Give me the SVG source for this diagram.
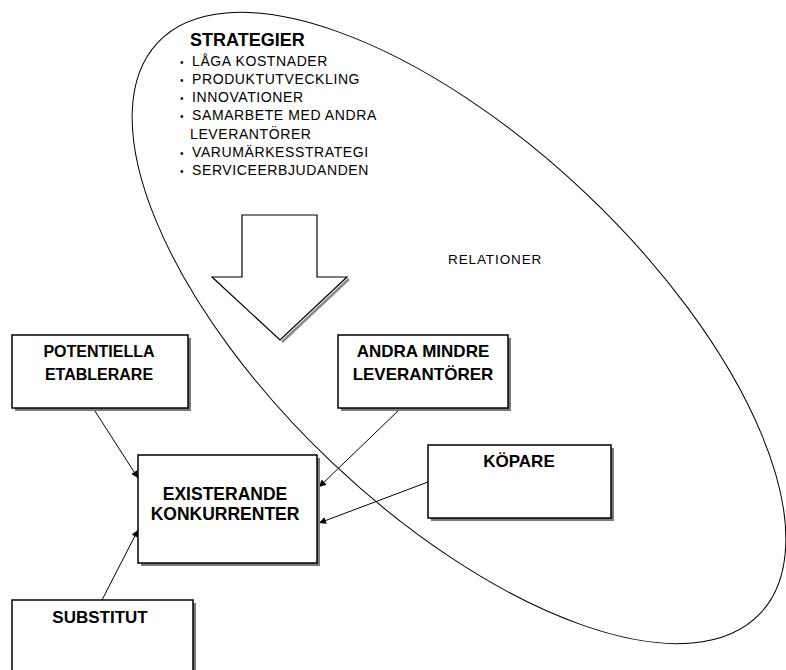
<svg xmlns="http://www.w3.org/2000/svg" width="786" height="670" viewBox="0 0 786 670">
<defs>
<style>
.box{fill:#fff;stroke:#000;stroke-width:1.5}
.shadow{fill:#7a7a7a}
.lbl{font-family:"Liberation Sans",Arial,sans-serif;font-weight:bold;font-size:17px;fill:#000;text-anchor:middle}
.item{font-family:"Liberation Sans",Arial,sans-serif;font-size:14px;letter-spacing:0.6px;fill:#000}
.conn{stroke:#000;stroke-width:1;fill:none;marker-end:url(#ah)}
</style>
<marker id="ah" viewBox="0 0 10 10" refX="10" refY="5" markerWidth="9" markerHeight="7" markerUnits="userSpaceOnUse" orient="auto">
<path d="M0,0 L10,5 L0,10 z" fill="#000"/>
</marker>
</defs>
<rect width="786" height="670" fill="#fff"/>

<g id="relationer">
<ellipse cx="459" cy="328" rx="415" ry="185" transform="rotate(43.5 459 328)" fill="none" stroke="#000" stroke-width="1"/>
<text x="448" y="264" class="item" style="font-size:13.5px;letter-spacing:0.9px">RELATIONER</text>
</g>

<g id="strategier">
<text x="190" y="46" style="font-family:'Liberation Sans',Arial,sans-serif;font-weight:bold;font-size:18px">STRATEGIER</text>
<g class="item">
<text x="180" y="66" style="font-size:10px">•</text><text x="192" y="66">LÅGA KOSTNADER</text>
<text x="180" y="84" style="font-size:10px">•</text><text x="192" y="84">PRODUKTUTVECKLING</text>
<text x="180" y="102" style="font-size:10px">•</text><text x="192" y="102">INNOVATIONER</text>
<text x="180" y="120" style="font-size:10px">•</text><text x="192" y="120">SAMARBETE MED ANDRA</text>
<text x="190" y="139">LEVERANTÖRER</text>
<text x="180" y="157" style="font-size:10px">•</text><text x="192" y="157">VARUMÄRKESSTRATEGI</text>
<text x="180" y="175" style="font-size:10px">•</text><text x="192" y="175">SERVICEERBJUDANDEN</text>
</g>
</g>

<g id="block-arrow">
<polyline points="349,279 282,342" fill="none" stroke="#8a8a8a" stroke-width="2.5"/>
<polygon points="242,215 317,215 317,277 347,277 280,340 212,277 242,277" fill="#fff" stroke="#000" stroke-width="1.2"/>
</g>

<g id="connectors">
<line class="conn" x1="93" y1="408" x2="138" y2="478"/>
<line class="conn" x1="400" y1="409" x2="319" y2="487"/>
<line class="conn" x1="428" y1="482" x2="319" y2="523"/>
<line class="conn" x1="102" y1="600" x2="138" y2="530"/>
</g>

<g id="potentiella">
<rect class="shadow" x="15" y="338" width="176" height="73"/>
<rect class="box" x="12" y="335" width="176" height="73"/>
<text class="lbl" x="99" y="357" style="font-size:16px">POTENTIELLA</text>
<text class="lbl" x="99" y="380" style="font-size:16px">ETABLERARE</text>
</g>

<g id="andra">
<rect class="shadow" x="341" y="338" width="170" height="73"/>
<rect class="box" x="338" y="335" width="170" height="73"/>
<text class="lbl" x="423" y="357">ANDRA MINDRE</text>
<text class="lbl" x="423" y="380">LEVERANTÖRER</text>
</g>

<g id="existerande">
<rect class="shadow" x="141" y="458" width="179" height="108"/>
<rect class="box" x="138" y="455" width="179" height="108"/>
<text class="lbl" x="225" y="500" style="font-size:17.5px">EXISTERANDE</text>
<text class="lbl" x="225" y="520" style="font-size:17.5px">KONKURRENTER</text>
</g>

<g id="kopare">
<rect class="shadow" x="431" y="448" width="183" height="73"/>
<rect class="box" x="428" y="445" width="183" height="73"/>
<text class="lbl" x="519" y="467">KÖPARE</text>
</g>

<g id="substitut">
<rect class="shadow" x="15" y="603" width="181" height="80"/>
<rect class="box" x="12" y="600" width="181" height="80"/>
<text class="lbl" x="100" y="623">SUBSTITUT</text>
</g>
</svg>
